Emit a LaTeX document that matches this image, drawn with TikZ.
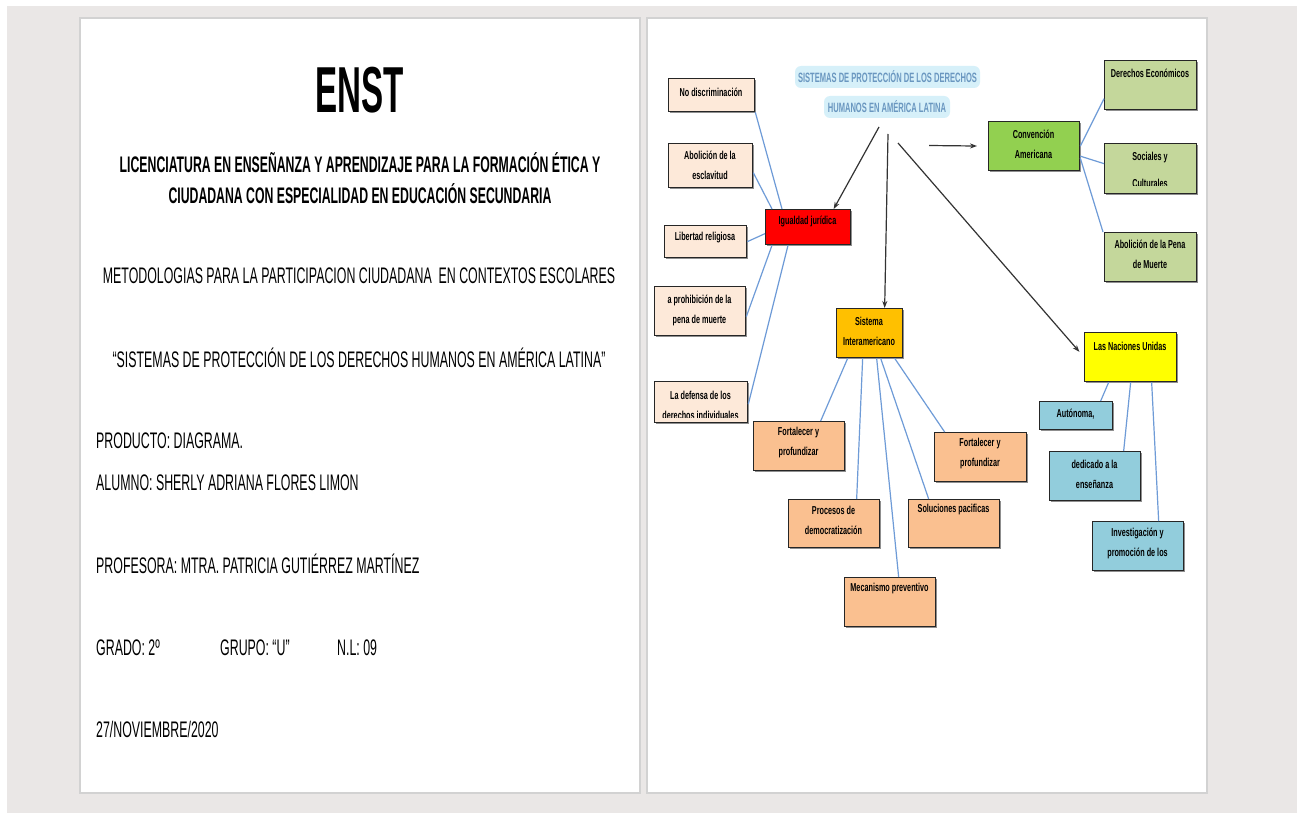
\documentclass[tikz,border=0pt]{standalone}
\usepackage{fontspec}
\setmainfont{Liberation Sans}
\newfontfamily\pagefont{Liberation Sans}[FakeStretch=0.55]
\newfontfamily\pageboldfont{Liberation Sans Bold}[FakeStretch=0.545]
\newfontfamily\enstfont{Liberation Sans}[FakeStretch=0.51]
\newfontfamily\diafont{Liberation Sans}[FakeStretch=0.63]
\newfontfamily\titfont{Liberation Sans}[FakeStretch=0.56]
\usetikzlibrary{arrows.meta,shadows}
\definecolor{bgc}{HTML}{EAE7E6}
\definecolor{pageedge}{HTML}{D2D2D2}
\definecolor{peach}{HTML}{FDE9D9}
\definecolor{redb}{HTML}{FF0000}
\definecolor{greenb}{HTML}{92D050}
\definecolor{oliveb}{HTML}{C4D79B}
\definecolor{goldb}{HTML}{FFC000}
\definecolor{orangeb}{HTML}{FAC090}
\definecolor{yellowb}{HTML}{FFFF00}
\definecolor{lblueb}{HTML}{92CDDC}
\definecolor{linkc}{HTML}{6E9BD7}
\definecolor{titc}{HTML}{6A97C0}
\definecolor{glowc}{HTML}{C9ECF8}
\begin{document}
\begin{tikzpicture}[x=1pt,y=-1pt,
  bx/.style n args={3}{draw=black!85, line width=1.3pt, fill=#1, rectangle, inner sep=0pt,
     minimum width=#2, minimum height=#3, anchor=north west,
     drop shadow={shadow xshift=1.3pt, shadow yshift=-1.3pt, fill=black!55, opacity=0.8}},
  dt/.style={font=\diafont\bfseries\fontsize{11.5}{20}\selectfont, align=center, inner sep=0pt, text=black},
  pgreg/.style={font=\pagefont\fontsize{22.5}{26}\selectfont, inner sep=0pt, text=black},
  pgbold/.style={font=\pageboldfont\fontsize{22.5}{26}\selectfont, inner sep=0pt, text=black},
  link/.style={draw=linkc, line width=1.2pt},
  arr/.style={draw=black!80, line width=1.2pt, -{Stealth[length=7pt,width=5pt]}},
  glow/.style={fill=glowc, rounded corners=6pt, draw=none, opacity=0.75},
  tit/.style={font=\titfont\bfseries\fontsize{13.5}{16}\selectfont, text=titc, inner sep=0pt},
  pagebox/.style={draw=pageedge, line width=2pt, fill=white}
]
\useasboundingbox (0,0) rectangle (1297,813);
% background
\fill[white] (0,0) rectangle (1297,813);
\fill[bgc] (7,6) rectangle (1297,813);
% pages
\draw[pagebox] (80,18) rectangle (640,793);
\draw[pagebox] (647,18) rectangle (1207,793);

% ---------- left page ----------
\node[pgreg, anchor=base, font=\enstfont\bfseries\fontsize{65}{70}\selectfont] (enst) at (360,113) {ENST};
\node[pgbold, anchor=base] (lic1) at (360,172) {LICENCIATURA EN ENSEÑANZA Y APRENDIZAJE PARA LA FORMACIÓN ÉTICA Y};
\node[pgbold, anchor=base] (lic2) at (360,203) {CIUDADANA CON ESPECIALIDAD EN EDUCACIÓN SECUNDARIA};
\node[pgreg, anchor=base] (met) at (359,283) {METODOLOGIAS PARA LA PARTICIPACION CIUDADANA \ EN CONTEXTOS ESCOLARES};
\node[pgreg, anchor=base] (sis) at (359,367) {“SISTEMAS DE PROTECCIÓN DE LOS DERECHOS HUMANOS EN AMÉRICA LATINA”};
\node[pgreg, anchor=base west] (prod) at (96,448) {PRODUCTO: DIAGRAMA.};
\node[pgreg, anchor=base west] (alu) at (96,490) {ALUMNO: SHERLY ADRIANA FLORES LIMON};
\node[pgreg, anchor=base west] (prof) at (96,573) {PROFESORA: MTRA. PATRICIA GUTIÉRREZ MARTÍNEZ};
\node[pgreg, anchor=base west] (gra) at (96,655) {GRADO: 2º};
\node[pgreg, anchor=base west] (gru) at (220,655) {GRUPO: “U”};
\node[pgreg, anchor=base west] (nl) at (337,655) {N.L: 09};
\node[pgreg, anchor=base west] (fecha) at (96,737) {27/NOVIEMBRE/2020};

% ---------- right page: title ----------
\fill[glow] (795,66) rectangle (980,88);
\fill[glow] (824,96) rectangle (950,118);
\node[tit, anchor=base] (t1line) at (887.5,83) {SISTEMAS DE PROTECCIÓN DE LOS DERECHOS};
\node[tit, anchor=base] (t2line) at (887,113) {HUMANOS EN AMÉRICA LATINA};
\coordinate (s1) at (879,127);
\coordinate (s2) at (888,134);
\coordinate (s3) at (898,143);
\coordinate (s4) at (929,145.5);

% ---------- boxes ----------
\node[bx={peach}{86pt}{33pt}] (nd) at (668,78) {};
\node[bx={peach}{84pt}{44pt}] (ab) at (668,143) {};
\node[bx={peach}{82pt}{32pt}] (lr) at (664,225) {};
\node[bx={peach}{91pt}{49pt}] (pm) at (654,286) {};
\node[bx={peach}{93pt}{41pt}] (ld) at (654,381) {};
\node[bx={redb}{85pt}{35pt}] (ig) at (765,209) {};
\node[bx={greenb}{91pt}{49pt}] (cv) at (988,121) {};
\node[bx={oliveb}{92pt}{49pt}] (de) at (1104,60) {};
\node[bx={oliveb}{92pt}{50pt}] (so) at (1104,143) {};
\node[bx={oliveb}{92pt}{49pt}] (ap) at (1104,232) {};
\node[bx={goldb}{66pt}{49pt}] (si) at (836,308) {};
\node[bx={orangeb}{91pt}{49pt}] (fl) at (753,421) {};
\node[bx={orangeb}{92pt}{49pt}] (fr) at (934,432) {};
\node[bx={orangeb}{91pt}{48pt}] (pd) at (788,499) {};
\node[bx={orangeb}{91pt}{48pt}] (sp) at (908,499) {};
\node[bx={orangeb}{91pt}{49pt}] (mp) at (844,577) {};
\node[bx={yellowb}{92pt}{49pt}] (nu) at (1084,332) {};
\node[bx={lblueb}{73pt}{28pt}] (au) at (1039,401) {};
\node[bx={lblueb}{91pt}{49pt}] (dl) at (1049,451) {};
\node[bx={lblueb}{91pt}{49pt}] (ip) at (1092,521) {};

% ---------- box texts ----------
\node[dt] (ndt) at (711,92.5) {No discriminación};
\node[dt] (abt) at (710,165) {Abolición de la\\esclavitud};
\node[dt] (lrt) at (705,238) {Libertad religiosa};
\node[dt] (pmt) at (699.5,310) {a prohibición de la\\pena de muerte};
\begin{scope}
\clip (655,382) rectangle (746,417);
\node[dt] (ldt) at (700.5,405) {La defensa de los\\derechos individuales};
\end{scope}
\node[dt] (igt) at (807.5,222) {Igualdad jurídica};
\node[dt] (cvt) at (1033.5,144) {Convención\\Americana};
\node[dt] (det) at (1150,73) {Derechos Económicos};
\begin{scope}
\clip (1105,144) rectangle (1195,185);
\node[dt, font=\diafont\bfseries\fontsize{11.5}{27}\selectfont] (sot) at (1150,170) {Sociales y\\Culturales};
\end{scope}
\node[dt] (apt) at (1150,254) {Abolición de la Pena\\de Muerte};
\node[dt] (sit) at (869,331.5) {Sistema\\Interamericano};
\node[dt] (flt) at (798.5,443) {Fortalecer y\\profundizar};
\node[dt] (frt) at (980,454) {Fortalecer y\\profundizar};
\node[dt] (pdt) at (833.5,520) {Procesos de\\democratización};
\node[dt] (spt) at (953.5,510) {Soluciones pacificas};
\node[dt] (mpt) at (889.5,589) {Mecanismo preventivo};
\node[dt] (nut) at (1130,346) {Las Naciones Unidas};
\node[dt] (aut) at (1075.5,414) {Autónoma,};
\node[dt] (dlt) at (1094.5,474) {dedicado a la\\enseñanza};
\node[dt] (ipt) at (1137.5,543) {Investigación y\\promoción de los};

% ---------- blue links ----------
\draw[link] (nd.south east) -- ([xshift=17pt]ig.north west);
\draw[link] ([yshift=-7pt]ab.east) -- ([xshift=7pt]ig.north west);
\draw[link] (lr.east) -- ([yshift=-6.5pt]ig.west);
\draw[link] ([yshift=-5.5pt]pm.east) -- ([xshift=7pt]ig.south west);
\draw[link] ([yshift=-2pt]ld.east) -- ([xshift=23pt]ig.south west);

\draw[link] (cv.east) -- ([yshift=-13.5pt]de.west);
\draw[link] ([yshift=-10pt]cv.east) -- ([yshift=5pt]so.west);
\draw[link] ([yshift=-12pt]cv.east) -- ([xshift=-1pt]ap.north west);

\draw[link] ([xshift=-22pt]si.south) -- ([xshift=21.5pt]fl.north);
\draw[link] ([xshift=-7pt]si.south) -- ([xshift=22.5pt]pd.north);
\draw[link] ([xshift=7pt]si.south) -- ([xshift=8.5pt]mp.north);
\draw[link] ([xshift=11pt]si.south) -- ([xshift=-25.5pt]sp.north);
\draw[link] ([xshift=25pt]si.south) -- ([xshift=-36pt]fr.north);

\draw[link] ([xshift=-22pt]nu.south) -- ([xshift=24.5pt]au.north);
\draw[link] (nu.south) -- ([xshift=28.5pt]dl.north);
\draw[link] ([xshift=21pt]nu.south) -- ([xshift=20.5pt]ip.north);

% ---------- arrows ----------
\draw[arr] (s1) -- ([xshift=25.5pt]ig.north);
\draw[arr] (s2) -- ([xshift=15pt]si.north);
\draw[arr, shorten >=7pt] (s3) -- (nu.west);
\draw[arr, shorten >=11pt] (s4) -- (cv.west);
\end{tikzpicture}
\end{document}
